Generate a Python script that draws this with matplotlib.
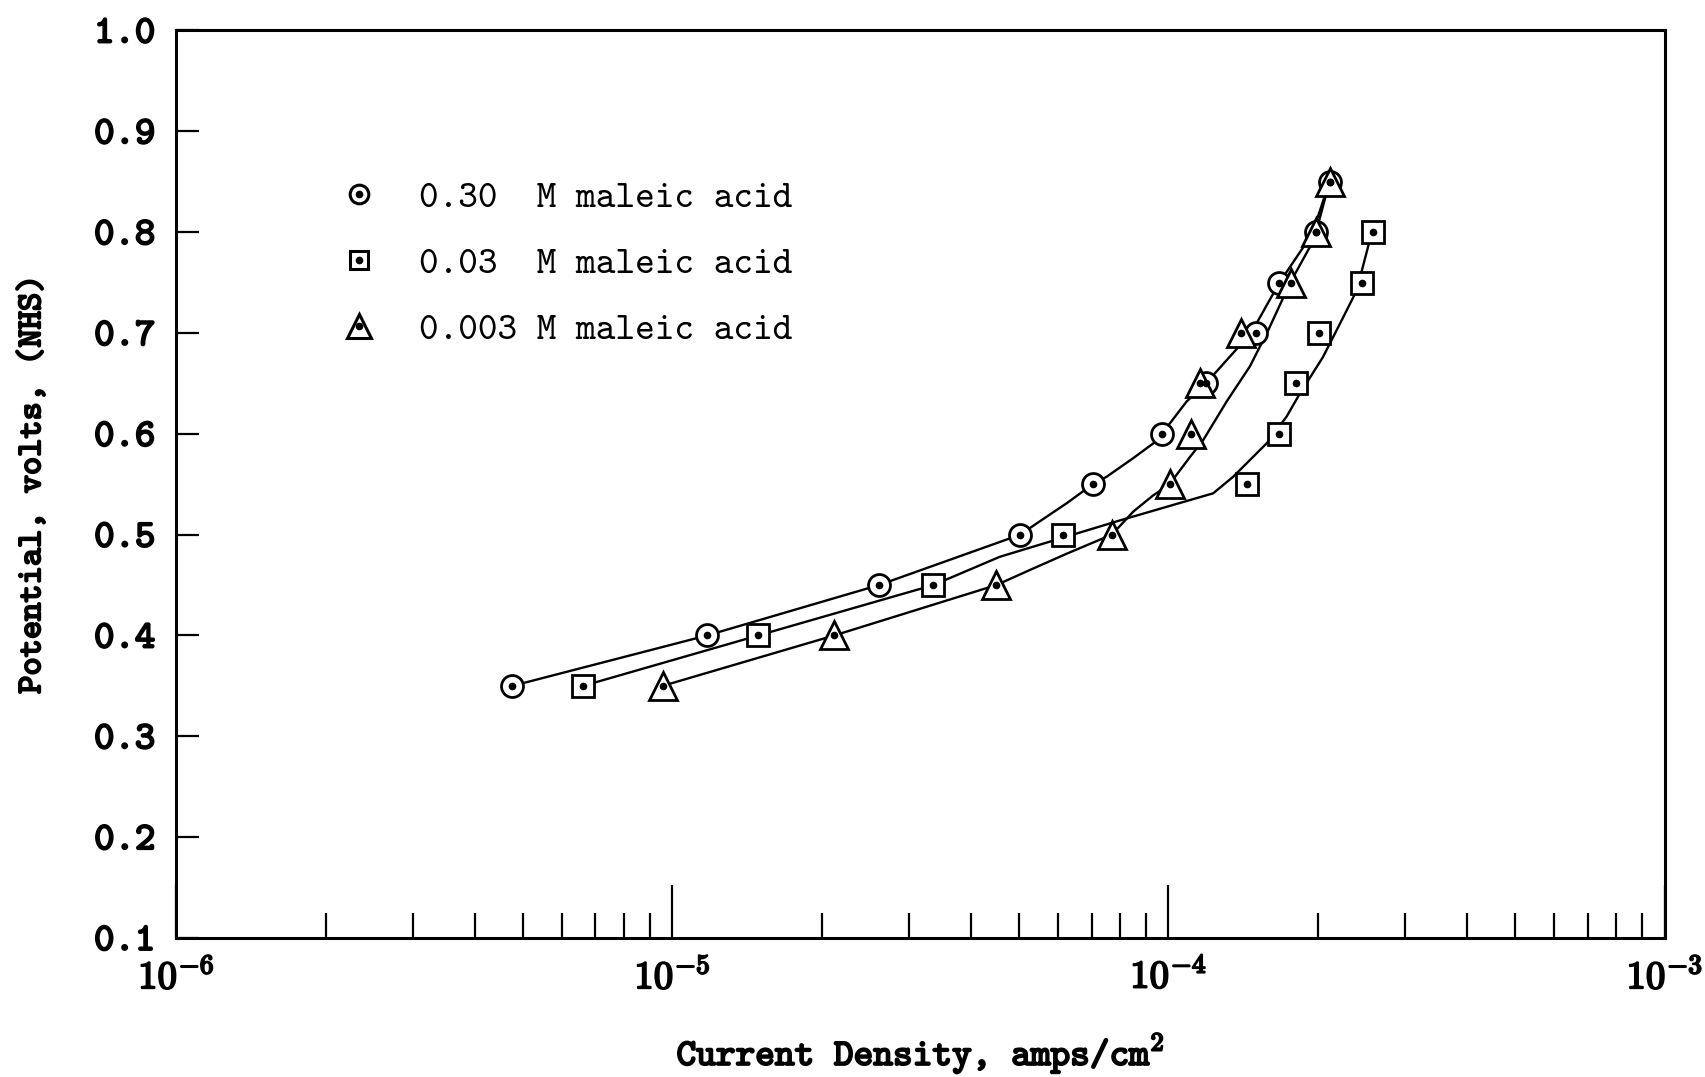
import matplotlib
matplotlib.use("Agg")
import matplotlib.pyplot as plt
import matplotlib.ticker as mtick
import matplotlib.patheffects as pe
from matplotlib.lines import Line2D

# ── DATA ────────────────────────────────────────────────────────────────────

# measured points: current density (A/cm2) vs potential (V, NHS)
CUR_030 = [4.76e-6, 1.175e-5, 2.61e-5, 5.03e-5, 7.06e-5, 9.70e-5,
           1.188e-4, 1.498e-4, 1.674e-4, 1.987e-4, 2.112e-4]
POT_030 = [0.35, 0.40, 0.45, 0.50, 0.55, 0.60, 0.65, 0.70, 0.75, 0.80, 0.85]

CUR_003 = [6.61e-6, 1.49e-5, 3.36e-5, 6.13e-5, 1.438e-4, 1.674e-4,
           1.806e-4, 2.007e-4, 2.457e-4, 2.584e-4]
POT_003 = [0.35, 0.40, 0.45, 0.50, 0.55, 0.60, 0.65, 0.70, 0.75, 0.80]

CUR_0003 = [9.56e-6, 2.12e-5, 4.50e-5, 7.69e-5, 1.005e-4, 1.112e-4,
            1.158e-4, 1.402e-4, 1.769e-4, 1.987e-4, 2.112e-4]
POT_0003 = [0.35, 0.40, 0.45, 0.50, 0.55, 0.60, 0.65, 0.70, 0.75, 0.80, 0.85]

# hand-drawn curves
FIT_030_I = [4.76e-6, 1.175e-5, 2.61e-5, 5.03e-5, 5.42e-5, 6.23e-5, 6.73e-5,
             7.06e-5, 7.51e-5, 8.50e-5, 9.32e-5, 9.70e-5, 1.088e-4, 1.19e-4,
             1.310e-4, 1.468e-4, 1.674e-4, 1.948e-4, 2.112e-4]
FIT_030_E = [0.35, 0.40, 0.45, 0.50, 0.511, 0.531, 0.543,
             0.55, 0.5575, 0.576, 0.5905, 0.60, 0.632, 0.65,
             0.673, 0.70, 0.75, 0.798, 0.85]

FIT_003_I = [6.61e-6, 1.49e-5, 3.36e-5, 4.57e-5, 6.13e-5, 7.97e-5, 1.231e-4,
             1.351e-4, 1.577e-4, 1.730e-4, 1.841e-4, 2.048e-4, 2.221e-4,
             2.395e-4, 2.571e-4]
FIT_003_E = [0.35, 0.40, 0.45, 0.478, 0.497, 0.514, 0.541,
             0.5575, 0.5905, 0.617, 0.640, 0.676, 0.710,
             0.742, 0.80]

FIT_0003_I = [9.56e-6, 2.12e-5, 4.50e-5, 5.26e-5, 6.23e-5, 7.69e-5, 8.50e-5,
              9.32e-5, 1.005e-4, 1.105e-4, 1.176e-4, 1.310e-4, 1.460e-4,
              1.590e-4, 1.760e-4, 1.967e-4, 2.112e-4]
FIT_0003_E = [0.35, 0.40, 0.45, 0.465, 0.481, 0.50, 0.523,
              0.539, 0.55, 0.577, 0.594, 0.632, 0.667,
              0.703, 0.75, 0.793, 0.85]

LABELS = ["0.30  M maleic acid", "0.03  M maleic acid", "0.003 M maleic acid"]
Y_TICKS = [0.1, 0.2, 0.3, 0.4, 0.5, 0.6, 0.7, 0.8, 0.9, 1.0]
X_DECADES = [1e-6, 1e-5, 1e-4, 1e-3]
X_TICK_LABELS = [r"$\mathtt{10^{-6}}$", r"$\mathtt{10^{-5}}$",
                 r"$\mathtt{10^{-4}}$", r"$\mathtt{10^{-3}}$"]

# ── STYLE ───────────────────────────────────────────────────────────────────

plt.rcParams["font.family"] = ["cmtt10", "DejaVu Sans"]
plt.rcParams["mathtext.fontset"] = "cm"
plt.rcParams["axes.unicode_minus"] = False

BOLD = [pe.withStroke(linewidth=1.4, foreground="black")]
MS = {"o": 15.8, "s": 15.8, "^": 20}
LW = 1.7

fig = plt.figure(figsize=(17.06, 10.77), dpi=100)
ax = fig.add_axes([0.1033, 0.1291, 0.8724, 0.8426])

series = [
    (CUR_030, POT_030, FIT_030_I, FIT_030_E, "o"),
    (CUR_003, POT_003, FIT_003_I, FIT_003_E, "s"),
    (CUR_0003, POT_0003, FIT_0003_I, FIT_0003_E, "^"),
]

handles = []
for cur, pot, fi, fe, mk in series:
    ax.plot(fi, fe, color="black", linewidth=LW, zorder=2,
            solid_joinstyle="round")
    ax.plot(cur, pot, linestyle="none", marker=mk, markersize=MS[mk],
            markerfacecolor="white", markeredgecolor="black",
            markeredgewidth=2.0, zorder=3)
    ax.plot(cur, pot, linestyle="none", marker="o", markersize=4.5,
            color="black", zorder=4)
    h1 = Line2D([], [], linestyle="none", marker=mk, markersize=MS[mk] * 0.85,
                markerfacecolor="white", markeredgecolor="black",
                markeredgewidth=2.2)
    h2 = Line2D([], [], linestyle="none", marker="o", markersize=4.5,
                color="black")
    handles.append((h1, h2))

ax.set_xscale("log")
ax.set_xlim(1e-6, 1e-3)
ax.set_ylim(0.1, 1.0)

ax.set_yticks(Y_TICKS)
ax.yaxis.set_major_formatter(mtick.FormatStrFormatter("%.1f"))
ax.set_xticks(X_DECADES)
ax.set_xticklabels(X_TICK_LABELS)
ax.xaxis.set_minor_locator(mtick.LogLocator(base=10, subs=range(2, 10)))
ax.xaxis.set_minor_formatter(mtick.NullFormatter())

ax.tick_params(axis="y", which="major", direction="in", length=16.5,
               width=1.6, labelsize=28, pad=15, right=False)
ax.tick_params(axis="x", which="major", direction="in", length=38,
               width=1.6, labelsize=28, pad=15, top=False)
ax.tick_params(axis="x", which="minor", direction="in", length=18,
               width=1.6, top=False)
for lab in ax.get_xticklabels() + ax.get_yticklabels():
    lab.set_path_effects(BOLD)

for sp in ax.spines.values():
    sp.set_linewidth(2.2)

ax.set_xlabel(r"Current Density, amps/cm$^{\mathtt{2}}$", fontsize=27,
              labelpad=24, path_effects=BOLD)
ax.set_ylabel("Potential, volts, (NHS)", fontsize=25, labelpad=33,
              path_effects=BOLD)

ax.legend(handles, LABELS, loc="upper left", bbox_to_anchor=(0.11, 0.834),
          frameon=False, fontsize=27, handlelength=1.0, handletextpad=1.1,
          labelspacing=0.82, borderpad=0, borderaxespad=0, numpoints=1)

fig.savefig("out.png", dpi=100)
